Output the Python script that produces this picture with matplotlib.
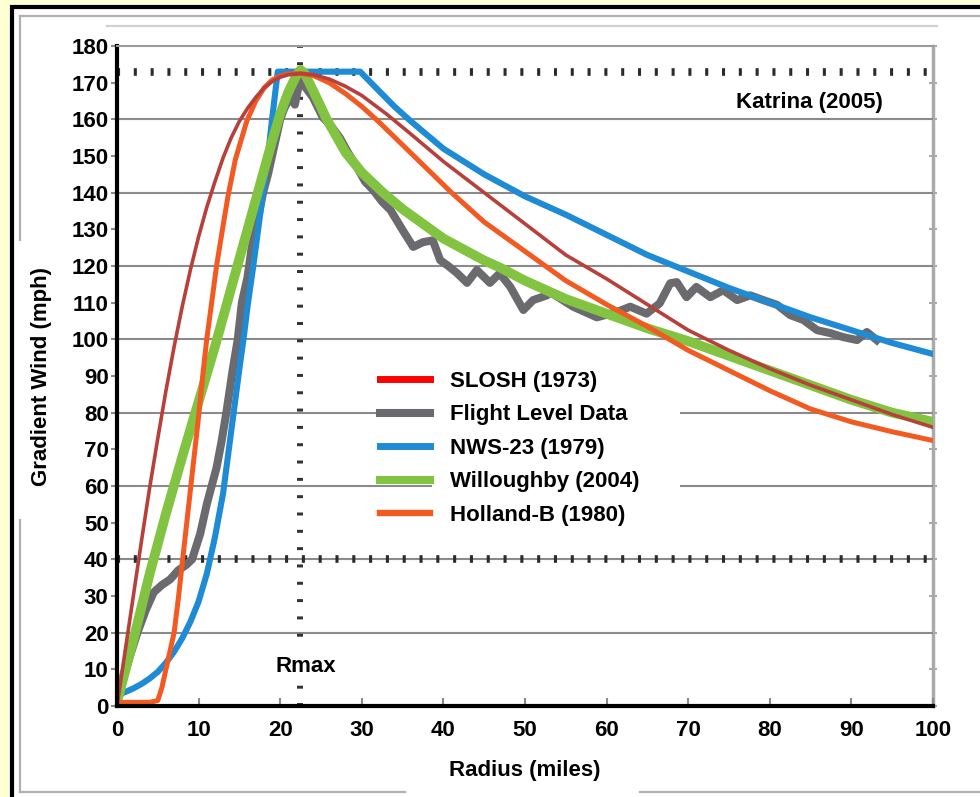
import matplotlib
matplotlib.use("Agg")
import matplotlib.pyplot as plt
from matplotlib import font_manager
from matplotlib.lines import Line2D
from matplotlib.patches import Rectangle

# ---------------- data ----------------
slosh_r = [0, 1, 2, 3, 4, 5, 6, 7, 8, 9, 10, 11, 12, 13, 14, 15, 16, 17, 18, 19, 20, 21, 22.5,
           24, 26, 28, 30, 33, 36, 40, 45, 50, 55, 60, 65, 70, 75, 80, 85, 90, 95, 100]
slosh_v = [0, 15, 30, 45, 59.5, 73, 86, 98, 109, 119, 128, 136, 143, 149.5, 155, 159.5, 163, 166,
           168.5, 170.3, 171.5, 172.2, 172.5, 172.2, 171, 169, 166.5, 161.5, 156, 148.5, 140, 131.5,
           123, 116.5, 109.5, 102.5, 97, 92, 87.5, 83.5, 79.5, 76]

holland_r = [0, 2, 4, 5, 5.5, 6, 6.5, 7, 7.5, 8, 8.5, 9, 9.5, 10, 10.5, 11, 11.6, 12.2, 13, 13.6,
             14.5, 15.9, 17, 18, 19, 20, 21, 22.5, 24, 26, 28, 30, 32, 35, 38, 41, 45, 50, 55, 60,
             65, 70, 75, 80, 85, 90, 95, 100]
holland_v = [1, 1, 1, 1.5, 5, 10, 15, 20, 29, 39, 49, 59, 69, 79, 90, 100, 110, 120, 131, 139, 149,
             159.5, 165, 168.5, 170.7, 171.8, 172.4, 172.5, 172, 170, 167, 163.5, 159.5, 153, 146.5,
             140, 132, 124, 116, 109.5, 103.5, 97, 91.5, 86, 81, 77.5, 74.8, 72.4]

nws_r = [0, 1, 2, 3, 4, 5, 6, 7, 8, 9, 10, 11, 12, 13, 14, 15, 15.5, 16, 16.7, 17.3, 17.9, 18.5, 19,
         19.7, 22.5, 25, 29.8, 32, 34, 36, 40, 45, 50, 55, 60, 65, 70, 75, 80, 85, 90, 95, 100]
nws_v = [3, 3.8, 4.8, 6, 7.5, 9.3, 11.8, 14.8, 18.5, 23, 28.5, 36, 46, 58, 75, 92, 100, 109, 120,
         130, 140, 150, 160, 173, 173, 173, 173, 168, 163.5, 159.5, 152, 145, 139, 134, 128.5, 123,
         118.5, 114, 110, 106, 102.5, 99, 96]

will_r = [0, 2, 4, 6, 8, 10, 12, 14, 16, 18, 19, 20, 21, 22, 22.5, 23, 24, 25.7, 28, 30, 32.6, 35,
          40, 45, 47, 50, 55, 60, 65, 70, 75, 80, 85, 90, 95, 100]
will_v = [1, 18, 36, 52.5, 68, 83, 98, 114, 130, 146, 154, 161.5, 167.5, 172, 173.5, 172.5, 168,
          160, 151, 145.5, 140, 135.5, 127.5, 121.5, 119.5, 116, 111, 107, 103, 99.5, 95.5, 91.5,
          87.5, 83.5, 80, 77.5]

flight_r = [0.8, 1.5, 2.5, 3.5, 4.5, 5.5, 6.5, 7.5, 8.5, 9.2, 10.2, 11, 11.6, 12.2, 12.8, 13.4,
            14.2, 14.8, 15.3, 16, 16.5, 17.2, 17.9, 18.5, 19, 19.5, 20, 20.5, 21.2, 21.8, 22.4, 23,
            24, 25.2, 26.3, 27.3, 28.3, 29.4, 30.4, 31.4, 32.5, 33.5, 35, 36.3, 37.5, 38.7, 39.6,
            40.6, 41.7, 42.9, 44.1, 45.7, 46.9, 48.2, 49.8, 51, 52.7, 53, 55.9, 58.8, 61.3, 62.9,
            64.9, 66.5, 67.8, 68.6, 69.8, 71, 72.7, 74.3, 76, 77.6, 79.2, 80.9, 82.5, 84.1, 85.8,
            87.4, 89, 90.7, 91.9, 93.1]
flight_v = [8, 13, 20, 26, 31, 33, 34.5, 37, 38.5, 40, 47, 55, 60, 65, 72, 80, 92, 100, 110, 117,
            125, 132, 140, 145, 150, 155, 160, 163, 166, 164, 170.7, 169, 166, 160.6, 158, 155, 151,
            147, 143, 140.7, 137.5, 135.3, 129.8, 125.2, 126.5, 127, 121.6, 120, 118, 115.4, 118.9,
            115.4, 118, 114.3, 108, 110.7, 112, 113, 108.9, 106, 107.5, 108.9, 107, 109.8, 115.3,
            115.6, 111.5, 114.3, 111.5, 113.4, 110.7, 112, 110.7, 109.4, 106.6, 105.3, 102.5, 101.7,
            100.6, 99.8, 102, 99.8]

series_labels = ["SLOSH (1973)", "Flight Level Data", "NWS-23 (1979)", "Willoughby (2004)",
                 "Holland-B (1980)"]
x_ticks = list(range(0, 101, 10))
y_ticks = list(range(0, 181, 10))
grid_levels = list(range(20, 161, 20))
peak_wind = 173
low_ref = 40
rmax = 22.4

# ---------------- fonts ----------------
names = {f.name for f in font_manager.fontManager.ttflist}
fam = "Liberation Sans Narrow" if "Liberation Sans Narrow" in names else "Liberation Sans"
plt.rcParams["font.family"] = [fam, "DejaVu Sans"]
plt.rcParams["font.weight"] = "bold"

W, H = 980, 797
fig = plt.figure(figsize=(W / 100, H / 100), dpi=100)
fig.patch.set_facecolor("#FFFFD6")

def fx(px):
    return px / W

def fy(py):
    return 1 - py / H

# outer black frame with white panel
fig.add_artist(Rectangle((fx(12), fy(810)), fx(1000) - fx(12), fy(6.5) - fy(810),
                         transform=fig.transFigure, facecolor="white", edgecolor="black",
                         lw=3, zorder=0))
# light grey inner frame (with gaps around axis labels)
gcol = "#b0b0b0"
for xs, ys in [((20, 20), (16, 240)), ((20, 20), (520, 792)), ((20, 985), (16, 16)),
               ((20, 405), (792, 792)), ((640, 985), (792, 792)), ((107, 937), (26, 26))]:
    fig.add_artist(Line2D([fx(xs[0]), fx(xs[1])], [fy(ys[0]), fy(ys[1])],
                          transform=fig.transFigure, color=gcol if ys[0] != 26 else "#d0d0d0",
                          lw=1.6, zorder=0.5))

ax = fig.add_axes([fx(117), fy(706), fx(933) - fx(117), fy(46) - fy(706)])
ax.set_facecolor("white")
ax.set_xlim(0, 100)
ax.set_ylim(0, 180)

for v in grid_levels:
    ax.axhline(v, color="#8a8a8a", lw=1.5, zorder=1)

# dotted reference lines
ax.axhline(peak_wind, color="#2a2a2a", lw=5.5, dashes=(0.4, 1.8), zorder=1.5)
ax.axhline(low_ref, color="#2a2a2a", lw=5.5, dashes=(0.4, 1.8), zorder=1.5)
ax.axvline(rmax, color="#333333", lw=4.3, dashes=(0.5, 2.4), zorder=1.5)

# white box behind the legend text
ax.add_patch(Rectangle(((432 - 117) / 816, (706 - 532) / 660), (680 - 432) / 816,
                       (532 - 365) / 660, transform=ax.transAxes, facecolor="white",
                       edgecolor="none", zorder=1.8))

c_slosh = "#b8403b"
c_slosh_leg = "#ff0000"
c_flight = "#6b6a6e"
c_nws = "#1e8bd4"
c_will = "#82c341"
c_hol = "#f25a22"

ax.plot(flight_r, flight_v, color=c_flight, lw=5.8, zorder=2, solid_joinstyle="round")
ax.plot(nws_r, nws_v, color=c_nws, lw=4.4, zorder=2.2)
ax.plot(will_r, will_v, color=c_will, lw=7, zorder=2.4)
ax.plot(holland_r, holland_v, color=c_hol, lw=3.6, zorder=2.6)
ax.plot(slosh_r, slosh_v, color=c_slosh, lw=2.6, zorder=2.8)

handles = [Line2D([], [], color=c_slosh_leg, lw=5),
           Line2D([], [], color=c_flight, lw=5.8),
           Line2D([], [], color=c_nws, lw=5),
           Line2D([], [], color=c_will, lw=5.8),
           Line2D([], [], color=c_hol, lw=4.6)]
leg = ax.legend(handles, series_labels, loc="upper left",
                bbox_to_anchor=((380 - 117) / 816, (706 - 371) / 660),
                frameon=False, fontsize=16, handlelength=2.25, handletextpad=0.9,
                labelspacing=0.56, borderpad=0, borderaxespad=0)
leg.set_zorder(5)

ax.text(84.9, 164.7, "Katrina (2005)", ha="center", va="center", fontsize=16,
        fontweight="bold", zorder=5)
ax.text(23.2, 10.9, "Rmax", ha="center", va="center", fontsize=16, fontweight="bold",
        zorder=5, bbox=dict(facecolor="white", edgecolor="none", pad=5))

ax.set_xticks(x_ticks)
ax.set_yticks(y_ticks)
ax.set_xticklabels([str(t) for t in x_ticks], fontsize=16, fontweight="bold")
ax.set_yticklabels([str(t) for t in y_ticks], fontsize=16, fontweight="bold")
ax.tick_params(axis="y", direction="out", length=4, width=1.5, color="#8a8a8a", pad=2)
ax.tick_params(axis="x", direction="in", length=6, width=1.5, color="#8a8a8a", pad=10)

sec = ax.secondary_yaxis("right")
sec.set_yticks(y_ticks)
sec.set_yticklabels([])
sec.tick_params(direction="inout", length=6, width=1.2, color="#9a9a9a")
sec.spines["right"].set_color("#aaaaaa")
sec.spines["right"].set_linewidth(2.5)

ax.spines["left"].set_color("black")
ax.spines["left"].set_linewidth(3)
ax.spines["bottom"].set_color("black")
ax.spines["bottom"].set_linewidth(3)
ax.spines["top"].set_color("#9a9a9a")
ax.spines["top"].set_linewidth(1.5)
ax.spines["right"].set_visible(False)
for s in ax.spines.values():
    s.set_zorder(6)

ax.set_xlabel("Radius (miles)", fontsize=16, fontweight="bold", labelpad=14)
ax.set_ylabel("Gradient Wind (mph)", fontsize=16, fontweight="bold", labelpad=14)

fig.savefig("out.png", dpi=100, facecolor=fig.get_facecolor())
